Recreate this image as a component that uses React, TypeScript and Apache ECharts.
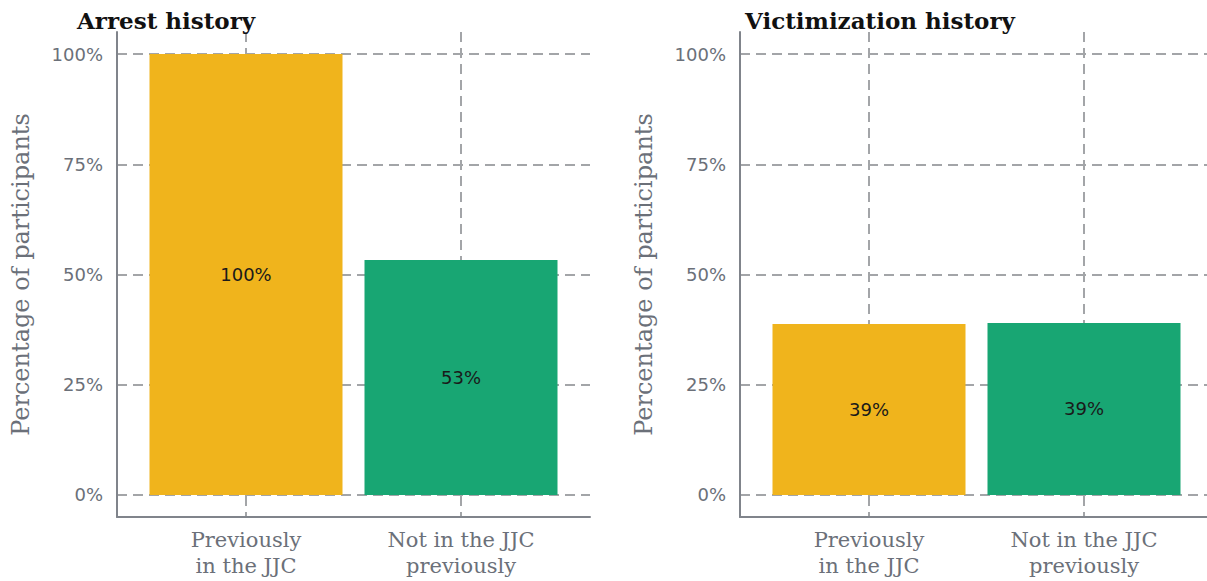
import React, { useEffect, useRef } from "react";
import * as echarts from "echarts";

const categories = ["Previously\nin the JJC", "Not in the JJC\npreviously"];
const categoryPositions = [1, 2];
const arrestValues = [100, 53.3];
const victimValues = [38.8, 39.0];
const panelTitles = ["Arrest history", "Victimization history"];
const yTicks = [0, 25, 50, 75, 100];
const barColors = ["#F0B41C", "#18A673"];

const SERIF = "'DejaVu Serif', serif";
const SANS = "'DejaVu Sans', sans-serif";
const TEXT_GRAY = "#6b7079";
const AXIS_GRAY = "#80848b";
const GRID_GRAY = "#a3a5a8";

export default function App() {
  const ref = useRef<HTMLDivElement>(null);
  useEffect(() => {
    if (!ref.current) return;
    const chart = echarts.init(ref.current, null, { renderer: "svg" });
    const grids = [
      { left: 117, top: 32, width: 473, height: 485 },
      { left: 740, top: 32, width: 473, height: 485 },
    ];
    const panels = [arrestValues, victimValues];
    const option: any = {
      animation: false,
      backgroundColor: "#ffffff",
      title: panelTitles.map((t, i) => ({
        text: t,
        left: i === 0 ? 77 : 745,
        top: 9,
        padding: 0,
        textStyle: { fontFamily: SERIF, fontWeight: "bold", fontSize: 23, color: "#111" },
      })),
      grid: grids.map((g) => ({ ...g, containLabel: false, outerBoundsMode: "none" })),
      xAxis: grids.map((_, i) => ({
        type: "value",
        gridIndex: i,
        min: 0.4,
        max: 2.6,
        axisLine: { show: true, onZero: false, lineStyle: { color: AXIS_GRAY, width: 2 } },
        axisTick: { show: false, customValues: categoryPositions },
        axisLabel: {
          customValues: categoryPositions,
          formatter: (v: number) => categories[Math.round(v) - 1] ?? "",
          fontFamily: SERIF,
          fontSize: 21,
          color: TEXT_GRAY,
          lineHeight: 26,
          margin: 10,
        },
        splitLine: { show: true, lineStyle: { color: GRID_GRAY, width: 2, type: [10, 6] } },
      })),
      yAxis: grids.map((_, i) => ({
        type: "value",
        gridIndex: i,
        min: -5,
        max: 105,
        name: "Percentage of participants",
        nameLocation: "middle",
        nameRotate: 90,
        nameGap: 84,
        nameTextStyle: { fontFamily: SERIF, fontSize: 24, color: TEXT_GRAY },
        axisLine: { show: true, onZero: false, lineStyle: { color: AXIS_GRAY, width: 2 } },
        axisTick: { show: false, customValues: yTicks },
        axisLabel: {
          customValues: yTicks,
          formatter: (v: number) => `${v}%`,
          fontFamily: SANS,
          fontSize: 18,
          color: TEXT_GRAY,
          margin: 14,
        },
        splitLine: { show: true, lineStyle: { color: GRID_GRAY, width: 2, type: [10, 6] } },
      })),
      series: panels.map((vals, i) => ({
        type: "bar",
        xAxisIndex: i,
        yAxisIndex: i,
        barWidth: 193,
        data: vals.map((v, j) => ({
          value: [categoryPositions[j], v],
          itemStyle: { color: barColors[j] },
        })),
        label: {
          show: true,
          position: "inside",
          formatter: (p: any) => `${Math.round(p.value[1])}%`,
          fontFamily: SANS,
          fontSize: 18,
          color: "#1a1a1a",
        },
      })),
    };
    chart.setOption(option);
    return () => chart.dispose();
  }, []);
  return (
    <div
      ref={ref}
      style={{ position: "fixed", left: 0, top: 0, width: 1207, height: 581, background: "#fff" }}
    />
  );
}
